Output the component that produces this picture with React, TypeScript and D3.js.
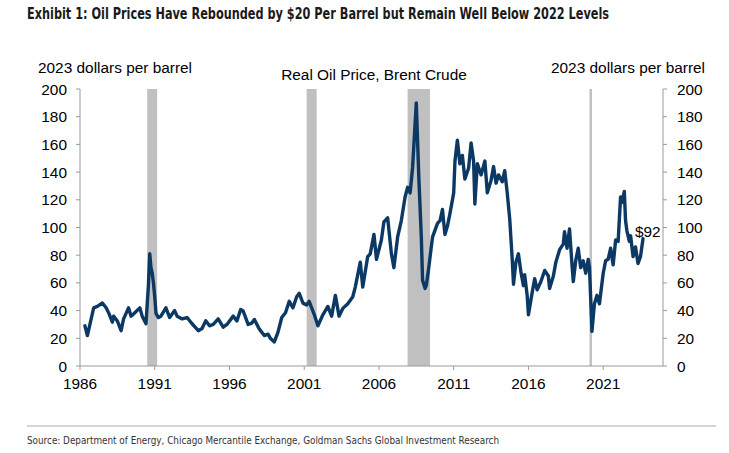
import React from "react";
import * as d3 from "d3";

const months: string[] = [
  "1986-05","1986-07","1986-10","1986-12","1987-03","1987-07","1987-10","1987-12",
  "1988-03","1988-04","1988-07","1988-10","1988-12","1989-04","1989-06","1989-08",
  "1990-01","1990-03","1990-06","1990-08","1990-09","1990-10","1990-11","1990-12",
  "1991-01","1991-02","1991-04","1991-06","1991-10","1992-01","1992-05","1992-07",
  "1992-11","1993-03","1993-07","1993-12","1994-03","1994-06","1994-09","1994-12",
  "1995-04","1995-08","1995-11","1996-04","1996-07","1996-10","1996-12","1997-04",
  "1997-07","1997-09","1998-01","1998-05","1998-08","1998-10","1999-01","1999-04",
  "1999-07","1999-10","2000-01","2000-04","2000-07","2000-09","2000-12","2001-03",
  "2001-05","2001-09","2001-12","2002-04","2002-08","2002-11","2003-02","2003-05",
  "2003-08","2003-12","2004-04","2004-06","2004-10","2004-12","2005-04","2005-06",
  "2005-09","2005-11","2006-03","2006-05","2006-08","2006-11","2007-01","2007-04",
  "2007-07","2007-10","2007-12","2008-02","2008-04","2008-07","2008-09","2008-11",
  "2008-12","2009-02","2009-03","2009-05","2009-08","2009-12","2010-02","2010-04",
  "2010-06","2010-08","2010-10","2011-01","2011-02","2011-04","2011-06","2011-08",
  "2011-10","2012-01","2012-03","2012-05","2012-06","2012-08","2012-11","2013-02",
  "2013-04","2013-07","2013-09","2013-11","2014-01","2014-04","2014-06","2014-08",
  "2014-10","2014-12","2015-01","2015-03","2015-05","2015-07","2015-09","2015-10",
  "2015-12","2016-01","2016-04","2016-06","2016-08","2016-11","2017-02","2017-05",
  "2017-06","2017-09","2017-11","2018-02","2018-05","2018-06","2018-08","2018-10",
  "2018-12","2019-01","2019-03","2019-05","2019-07","2019-09","2019-11","2020-01",
  "2020-02","2020-03","2020-04","2020-06","2020-08","2020-10","2021-01","2021-03",
  "2021-05","2021-07","2021-09","2021-11","2022-01","2022-03","2022-04","2022-06",
  "2022-07","2022-08","2022-10","2022-11","2023-01","2023-03","2023-05","2023-07",
  "2023-09"
];

const prices: number[] = [
  29,22,34,42,43,45.5,42,38.5,
  31.6,36,32.5,25.5,34,42,36,37.5,
  42,36,30.5,59,81,71,67,60,
  50,38,35,36,42,35,40,36,
  34,35,30.5,25.5,27,32.6,29,30,
  34,28,30,36,32.6,40.8,39.7,30,
  31,33.6,26.6,22,23,19.8,17.4,24.5,
  35,38.5,46.7,42,50,52.5,45.4,44,
  46.7,37.3,29,37,43,36,51,36,
  41.6,45,50,57,75,57,79,81,
  95,77,91,104,107,81,71,93,
  105,122,129,125,143,190,136,93,
  62,56,58,71,93,103,105,113,
  95,101,110,125,148,163,146,152,
  135,143,161,148,117,146,138,148,
  125,134,144,132,138,133,141,125,
  106,77,59,75,81,68,58,66,
  51,37,53,63,55,61,69,65,
  56,65,75,84,88,97,85,99,
  73,61,76,85,71,76,67,77,
  71,49,25,45,51,45,67,76,
  77,85,73,91,90,122,118,126,
  105,98,90,94,79,86,74,79,
  92
];

const recessionStarts: string[] = ["1990-07", "2001-03", "2007-12", "2020-02"];
const recessionEnds: string[] = ["1991-03", "2001-11", "2009-06", "2020-04"];

const yTicks: number[] = [0, 20, 40, 60, 80, 100, 120, 140, 160, 180, 200];
const xTickYears: number[] = [1986, 1991, 1996, 2001, 2006, 2011, 2016, 2021];

const parse = d3.timeParse("%Y-%m");

export default function App() {
  const W = 729, H = 453;
  const x = d3.scaleTime()
    .domain([new Date(1986, 0, 1), new Date(2025, 0, 1)])
    .range([80, 663]);
  const y = d3.scaleLinear().domain([0, 200]).range([366, 89]);

  const pts = months.map((m, i) => ({ d: parse(m) as Date, v: prices[i] }));
  const line = d3.line<{ d: Date; v: number }>()
    .x((p) => x(p.d))
    .y((p) => y(p.v));

  const font = "'Liberation Sans', Arial, sans-serif";
  const narrow = "'Liberation Sans Narrow', 'DejaVu Sans Condensed', sans-serif";
  const axisColor = "#9a9a9a";
  const fs = 15.4;

  return (
    <svg width={W} height={H} style={{ position: "absolute", left: 0, top: 0, background: "#fff" }}>
      <rect x={0} y={0} width={W} height={H} fill="#fff" />
      <text x={27} y={19} fontFamily={narrow} fontWeight="bold" fontSize={15} fill="#1a1a1a"
        textLength={582} lengthAdjust="spacingAndGlyphs">
        Exhibit 1: Oil Prices Have Rebounded by $20 Per Barrel but Remain Well Below 2022 Levels
      </text>

      {recessionStarts.map((s, i) => {
        const x0 = x(parse(s) as Date);
        const x1 = x(parse(recessionEnds[i]) as Date);
        return <rect key={s} x={x0} y={y(200)} width={x1 - x0} height={y(0) - y(200)} fill="#c0c0c0" />;
      })}

      {/* left axis */}
      <line x1={80} x2={80} y1={y(200)} y2={y(0)} stroke={axisColor} strokeWidth={1} />
      {yTicks.map((t) => (
        <g key={"l" + t}>
          <line x1={76} x2={80} y1={y(t)} y2={y(t)} stroke={axisColor} />
          <text x={67} y={y(t) + 5.5} textAnchor="end" fontFamily={font} fontSize={fs} fill="#000">{t}</text>
        </g>
      ))}
      {/* right axis */}
      <line x1={663} x2={663} y1={y(200)} y2={y(0)} stroke={axisColor} strokeWidth={1} />
      {yTicks.map((t) => (
        <g key={"r" + t}>
          <line x1={663} x2={667} y1={y(t)} y2={y(t)} stroke={axisColor} />
          <text x={677} y={y(t) + 5.5} textAnchor="start" fontFamily={font} fontSize={fs} fill="#000">{t}</text>
        </g>
      ))}
      {/* bottom axis */}
      <line x1={80} x2={663} y1={y(0)} y2={y(0)} stroke={axisColor} strokeWidth={1} />
      {xTickYears.map((yr) => {
        const xx = x(new Date(yr, 0, 1));
        return (
          <g key={"x" + yr}>
            <line x1={xx} x2={xx} y1={y(0)} y2={y(0) + 4} stroke={axisColor} />
            <text x={xx} y={389} textAnchor="middle" fontFamily={font} fontSize={fs} fill="#000">{yr}</text>
          </g>
        );
      })}

      <path d={line(pts) || ""} fill="none" stroke="#0b3963" strokeWidth={3.4} strokeLinejoin="round" strokeLinecap="round" />

      <text x={635} y={237} textAnchor="start" fontFamily={font} fontSize={fs} fill="#000">$92</text>

      <text x={38} y={73} fontFamily={font} fontSize={fs} fill="#000">2023 dollars per barrel</text>
      <text x={705} y={73} textAnchor="end" fontFamily={font} fontSize={fs} fill="#000">2023 dollars per barrel</text>
      <text x={374} y={80} textAnchor="middle" fontFamily={font} fontSize={fs} fill="#000">Real Oil Price, Brent Crude</text>

      <line x1={27} x2={716} y1={426} y2={426} stroke="#aaa" strokeWidth={1} />
      <text x={27} y={444} fontFamily={narrow} fontSize={11} fill="#333" textLength={472} lengthAdjust="spacingAndGlyphs">
        Source: Department of Energy, Chicago Mercantile Exchange, Goldman Sachs Global Investment Research
      </text>
    </svg>
  );
}
